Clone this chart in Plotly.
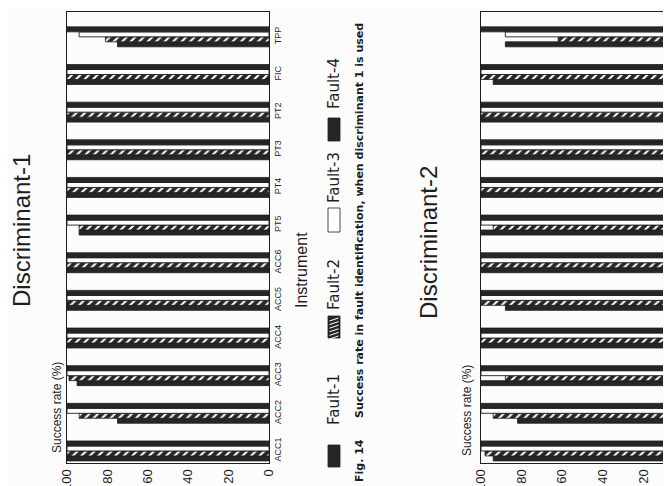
import plotly.graph_objects as go

W, H = 671, 486
OX, OY = 8, 8  # page body margin offset of the plot div

instruments = ["ACC1", "ACC2", "ACC3", "ACC4", "ACC5", "ACC6",
               "PT5", "PT4", "PT3", "PT2", "FIC", "TPP"]
value_ticks = [0, 20, 40, 60, 80, 100]
fault_names = ["Fault-1", "Fault-2", "Fault-3", "Fault-4"]

# Discriminant-1 success rates (%)
d1_fault1 = [100, 75, 95, 100, 100, 100, 94, 100, 100, 100, 100, 75]
d1_fault2 = [100, 94, 99, 100, 100, 100, 94, 100, 100, 100, 100, 81]
d1_fault3 = [100, 100, 100, 100, 100, 100, 100, 100, 100, 100, 100, 94]
d1_fault4 = [100, 100, 100, 100, 100, 100, 100, 100, 100, 100, 100, 100]

# Discriminant-2 success rates (%)
d2_fault1 = [94, 82, 100, 100, 88, 100, 100, 100, 100, 100, 94, 88]
d2_fault2 = [98, 94, 88, 100, 100, 100, 94, 100, 100, 100, 100, 62]
d2_fault3 = [100, 100, 100, 100, 100, 100, 100, 100, 100, 100, 100, 88]
d2_fault4 = [100, 100, 100, 100, 100, 100, 100, 100, 100, 100, 100, 100]

DARK = "#262626"
INK = "#1e1e1e"
FONT = "Liberation Sans, Arial, sans-serif"
LEG = "DejaVu Sans, sans-serif"


def px(x):
    return (x - OX) / W


def py(y):
    return 1 - (y - OY) / H


def styles():
    return [
        dict(color=DARK, line=dict(color=INK, width=0.8)),
        dict(color=DARK, line=dict(color=INK, width=0.8),
             pattern=dict(shape="/", fgcolor="white", bgcolor=DARK,
                          size=6, solidity=0.35)),
        dict(color="white", line=dict(color=INK, width=0.9)),
        dict(color=DARK, line=dict(color=INK, width=0.8)),
    ]


fig = go.Figure()
for vals, xa, ya in [((d1_fault1, d1_fault2, d1_fault3, d1_fault4), "x", "y"),
                     ((d2_fault1, d2_fault2, d2_fault3, d2_fault4), "x2", "y2")]:
    for name, v, st in zip(fault_names, vals, styles()):
        fig.add_trace(go.Bar(y=instruments, x=v, orientation="h", name=name,
                             marker=st, xaxis=xa, yaxis=ya, showlegend=False))

ydom = [py(463), py(12)]
yrange = [-0.32, 11.66]
val_axis = dict(tickvals=value_ticks, ticktext=[str(t) for t in value_ticks],
                tickangle=-90, tickfont=dict(family=FONT, size=13, color=INK),
                showgrid=False, zeroline=False, showline=True,
                linecolor=INK, linewidth=1, ticks="", fixedrange=True,
                automargin=False)

# chart 2 runs past the right edge: value 0 would sit at page x = 684
right_page_x = W + OX
x2_end = (684 - right_page_x) / 2.03

fig.update_layout(
    template="none",
    width=W, height=H,
    margin=dict(l=0, r=0, t=0, b=0, pad=0),
    paper_bgcolor="#fcfcfc", plot_bgcolor="#fcfcfc",
    barmode="group", bargap=0.47, bargroupgap=0.0,
    xaxis=dict(domain=[px(67), px(269)], range=[100, 0], anchor="y",
               mirror=True, **val_axis),
    xaxis2=dict(domain=[px(481), 1.0], range=[100, x2_end],
                anchor="y2", mirror=True, **val_axis),
    yaxis=dict(domain=ydom, range=yrange, anchor="x", side="right",
               categoryorder="array", categoryarray=instruments,
               tickangle=-90,
               tickfont=dict(family=FONT, size=9, color=INK),
               showline=True, mirror=True, linecolor=INK, linewidth=1,
               showgrid=False, zeroline=False, ticks="", fixedrange=True,
               automargin=False),
    yaxis2=dict(domain=ydom, range=yrange, anchor="x2", side="left",
                categoryorder="array", categoryarray=instruments,
                showticklabels=False, showline=True, mirror=False,
                linecolor=INK, linewidth=1, showgrid=False, zeroline=False,
                ticks="", fixedrange=True, automargin=False),
)

ann = []


def text(s, x, y, size, bold=False, family=FONT, **kw):
    ann.append(dict(text=("<b>%s</b>" % s) if bold else s, x=px(x), y=py(y),
                    xref="paper", yref="paper", showarrow=False,
                    textangle=-90, xanchor="center", yanchor="middle",
                    font=dict(family=family, size=size, color=INK), **kw))


text("Discriminant-1", 22, 231, 24)
text("Discriminant-2", 428, 243, 24)
text("Success rate (%)", 57, 408, 12)
text("Success rate (%)", 467, 411, 12)
text("Instrument", 301, 270, 16)
text("Fault-1", 334, 400, 15, family=LEG)
text("Fault-2", 334, 285, 15, family=LEG)
text("Fault-3", 334, 178, 15, family=LEG)
text("Fault-4", 334, 84, 15, family=LEG)
text("Fig. 14", 359, 460, 11, bold=True, family=LEG)
text("Success rate in fault identification, when discriminant 1 is used",
     359, 220, 11, bold=True, family=LEG)

shapes = []


def rect(x0, y0, x1, y1, fill, lw=0.8):
    shapes.append(dict(type="rect", xref="paper", yref="paper",
                       x0=px(x0), x1=px(x1), y0=py(y1), y1=py(y0),
                       fillcolor=fill, line=dict(color=INK, width=lw)))


rect(328, 445, 340, 467, DARK)
rect(328, 316, 340, 338, DARK)
rect(328, 208, 340, 232, "white")
rect(328, 118, 340, 141, DARK)
# hatch lines for Fault-2 legend swatch
path = ""
for k in range(6):
    yy = 318 + k * 3.6
    path += "M %f %f L %f %f " % (px(329.5), py(yy + 3), px(338.5), py(yy))
shapes.append(dict(type="path", xref="paper", yref="paper", path=path,
                   line=dict(color="white", width=1)))

fig.update_layout(annotations=ann, shapes=shapes)
fig.write_html("out.html")
